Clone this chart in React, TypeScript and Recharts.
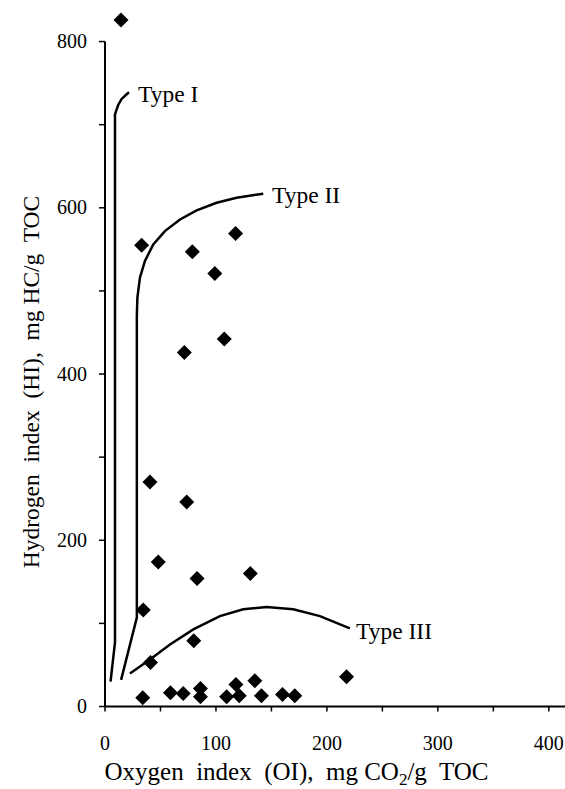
import React from "react";
import {
  ScatterChart,
  Scatter,
  XAxis,
  YAxis,
  ReferenceLine
} from "recharts";

// samples (OI, HI)
const samples = [
  { x: 14.4, y: 826 },
  { x: 33, y: 555 },
  { x: 78.7, y: 547 },
  { x: 117.7, y: 569 },
  { x: 99, y: 521 },
  { x: 107.5, y: 442 },
  { x: 71.5, y: 426 },
  { x: 40.5, y: 270 },
  { x: 73.6, y: 246 },
  { x: 48, y: 174 },
  { x: 83, y: 154 },
  { x: 131, y: 160 },
  { x: 34.5, y: 116 },
  { x: 80, y: 79 },
  { x: 41, y: 53 },
  { x: 34, y: 10.5 },
  { x: 59, y: 16.5 },
  { x: 70.5, y: 15.6 },
  { x: 86, y: 21.7 },
  { x: 86, y: 11.7 },
  { x: 109.6, y: 11.7 },
  { x: 118, y: 26.5 },
  { x: 121, y: 13 },
  { x: 135, y: 31 },
  { x: 141, y: 13 },
  { x: 160, y: 14.4 },
  { x: 171, y: 13 },
  { x: 217.7, y: 35.7 }
];

// kerogen type boundary curves
const typeI = [
  { x: 5, y: 30 },
  { x: 9, y: 77 },
  { x: 9, y: 712 },
  { x: 9.9, y: 716 },
  { x: 12, y: 724 },
  { x: 15, y: 731 },
  { x: 19, y: 736 },
  { x: 21.6, y: 739 }
];

const typeII = [
  { x: 14.5, y: 32 },
  { x: 28.7, y: 107 },
  { x: 28.7, y: 470 },
  { x: 29.2, y: 492 },
  { x: 31.5, y: 516 },
  { x: 36, y: 536 },
  { x: 43.5, y: 556 },
  { x: 54, y: 572 },
  { x: 67.6, y: 586 },
  { x: 82.6, y: 597 },
  { x: 100.6, y: 606 },
  { x: 118.6, y: 612 },
  { x: 142.6, y: 617 }
];

const typeIII = [
  { x: 22.5, y: 39.7 },
  { x: 40.5, y: 56.6 },
  { x: 58.6, y: 74.7 },
  { x: 79.6, y: 92.7 },
  { x: 103.6, y: 108.8 },
  { x: 124.6, y: 116.9 },
  { x: 145.6, y: 119.6 },
  { x: 169.7, y: 116.9 },
  { x: 193.7, y: 108.8 },
  { x: 220.7, y: 94 }
];

const xTicks = [0, 50, 100, 150, 200, 250, 300, 350, 400];
const yTicks = [0, 100, 200, 300, 400, 500, 600, 700, 800];

const serif = "Liberation Serif";

const Diamond = (props: any) => {
  const { cx, cy } = props;
  const r = 7.5;
  return (
    <polygon
      points={`${cx},${cy - r} ${cx + r},${cy} ${cx},${cy + r} ${cx - r},${cy}`}
      fill="#000"
    />
  );
};

const NoDot = () => <g />;

const XTick = (props: any) => {
  const { x, y, payload } = props;
  if (payload.value % 100 !== 0) return <g />;
  return (
    <text x={x} y={y} dy="0.71em" textAnchor="middle" fontSize={20} fill="#000" style={{ fontFamily: serif }}>
      {payload.value}
    </text>
  );
};

const YTick = (props: any) => {
  const { x, y, payload } = props;
  if (payload.value % 200 !== 0) return <g />;
  return (
    <text x={x} y={y} dy="0.33em" textAnchor="end" fontSize={20} fill="#000" style={{ fontFamily: serif }}>
      {payload.value}
    </text>
  );
};

const curveLine = { stroke: "#000", strokeWidth: 2.5 };

export default function App() {
  return (
    <div
      style={{
        position: "absolute",
        left: 0,
        top: 0,
        width: 565,
        height: 789,
        overflow: "hidden",
        background: "#fff"
      }}
    >
      <ScatterChart
        width={571}
        height={789}
        margin={{ top: 0, right: 0, bottom: 0, left: 0 }}
      >
        <XAxis
          type="number"
          dataKey="x"
          domain={[0, 420]}
          ticks={xTicks}
          interval={0}
          height={82.5}
          tickSize={5}
          tickMargin={24}
          axisLine={{ stroke: "#000", strokeWidth: 2 }}
          tickLine={{ stroke: "#000", strokeWidth: 1.5 }}
          tick={XTick}
        />
        <YAxis
          type="number"
          dataKey="y"
          domain={[0, 850]}
          ticks={yTicks}
          interval={0}
          width={105}
          tickSize={6}
          tickMargin={12}
          axisLine={false}
          tickLine={{ stroke: "#000", strokeWidth: 1.5 }}
          tick={YTick}
        />
        <ReferenceLine
          segment={[
            { x: 0, y: 0 },
            { x: 0, y: 800 }
          ]}
          stroke="#000"
          strokeWidth={2}
        />
        <Scatter data={typeI} line={curveLine} lineType="joint" shape={NoDot} isAnimationActive={false} />
        <Scatter data={typeII} line={curveLine} lineType="joint" shape={NoDot} isAnimationActive={false} />
        <Scatter data={typeIII} line={curveLine} lineType="joint" shape={NoDot} isAnimationActive={false} />
        <Scatter data={samples} shape={Diamond} isAnimationActive={false} />
      </ScatterChart>
      <svg
        width={565}
        height={789}
        style={{ position: "absolute", left: 0, top: 0, pointerEvents: "none" }}
        fill="#000"
      >
        <g style={{ fontFamily: serif }}>
          <text x={138} y={102} fontSize={23.5}>Type I</text>
          <text x={272} y={203} fontSize={23.5}>Type II</text>
          <text x={356} y={639} fontSize={23.5}>Type III</text>
          <text x={104.5} y={780} fontSize={25} style={{ whiteSpace: "pre", fontFamily: serif }}>
            Oxygen  index  (OI),  mg CO<tspan dy={5} fontSize={17}>2</tspan>
            <tspan dy={-5}>/g  TOC</tspan>
          </text>
          <text
            x={0}
            y={0}
            fontSize={23.5}
            textAnchor="middle"
            transform="translate(39 382) rotate(-90)"
            style={{ whiteSpace: "pre", fontFamily: serif }}
          >
            Hydrogen  index  (HI),  mg HC/g  TOC
          </text>
        </g>
      </svg>
    </div>
  );
}
